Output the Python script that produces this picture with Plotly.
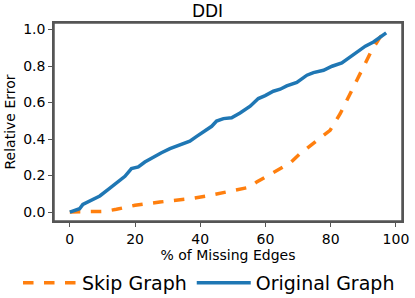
import plotly.graph_objects as go

orig_x = [0, 3, 4, 7.2, 9.2, 11.8, 14.3, 16.9, 18.9, 21, 23, 25.6, 28.1, 30.7, 33.3, 34.8, 36.8,
          38.9, 41, 43.5, 45, 47.1, 49.6, 52.2, 55.3, 57.8, 59.9, 62.4, 64.5, 66.5, 69.6, 72.7,
          74.7, 77.8, 80.4, 83.4, 86, 88, 90.6, 93.1, 95.2, 97]
orig_y = [0, 0.018, 0.042, 0.073, 0.088, 0.124, 0.159, 0.196, 0.238, 0.247, 0.274, 0.302, 0.325,
          0.347, 0.366, 0.378, 0.389, 0.415, 0.442, 0.47, 0.499, 0.512, 0.517, 0.543, 0.58, 0.622,
          0.638, 0.662, 0.673, 0.691, 0.711, 0.75, 0.764, 0.777, 0.799, 0.817, 0.85, 0.877, 0.909,
          0.932, 0.96, 0.982]

skip_x = [0, 4, 10.7, 14.3, 20, 27.6, 36.8, 42, 46, 49.6, 55.3, 57.3, 60.4, 63.4, 67.6, 70.6,
          74.7, 79.8, 82.9, 86, 89.6, 92.6, 95.2, 97]
skip_y = [0, 0.002, 0.004, 0.015, 0.037, 0.055, 0.073, 0.088, 0.104, 0.115, 0.137, 0.165, 0.196,
          0.229, 0.269, 0.32, 0.375, 0.448, 0.539, 0.649, 0.777, 0.887, 0.96, 0.987]

x_ticks = [0, 20, 40, 60, 80, 100]
y_ticks = [0.0, 0.2, 0.4, 0.6, 0.8, 1.0]

FONT = "DejaVu Sans"

fig = go.Figure()
fig.add_trace(go.Scatter(x=skip_x, y=skip_y, mode="lines", name="Skip Graph",
                         line=dict(color="#ff7f0e", width=3.5, dash="dash")))
fig.add_trace(go.Scatter(x=orig_x, y=orig_y, mode="lines", name="Original Graph",
                         line=dict(color="#1f77b4", width=3.5)))

axis_common = dict(showline=True, linecolor="#555555", linewidth=1.5, mirror=True,
                   ticks="outside", ticklen=4, tickwidth=1.2, tickcolor="#555555", showgrid=False,
                   zeroline=False, automargin=False,
                   tickfont=dict(family=FONT, size=14, color="black"))

fig.update_layout(
    width=415, height=298,
    margin=dict(l=54, r=13, t=23, b=77, autoexpand=False),
    plot_bgcolor="white", paper_bgcolor="white",
    title=dict(text="DDI", x=0.5, xanchor="center", y=0.962, yanchor="middle",
               font=dict(family=FONT, size=17, color="black")),
    xaxis=dict(range=[-4.85, 101.85], tickvals=x_ticks, ticktext=[str(v) for v in x_ticks],
               title=dict(text="% of Missing Edges", font=dict(family=FONT, size=14, color="black"),
                          standoff=2),
               **axis_common),
    yaxis=dict(range=[-0.049, 1.036], tickvals=y_ticks, ticktext=[f"{v:.1f}" for v in y_ticks],
               title=dict(text="Relative Error", font=dict(family=FONT, size=14, color="black"),
                          standoff=4),
               **axis_common),
    legend=dict(orientation="h", x=-0.1034, xanchor="left", y=-0.313, yanchor="middle",
                font=dict(family=FONT, size=19, color="black"), bgcolor="rgba(0,0,0,0)",
                itemwidth=54, tracegroupgap=0),
    shapes=[dict(type="rect", xref="paper", yref="paper", x0=0, x1=1, y0=0, y1=1,
                 line=dict(color="#555555", width=1.5), layer="above")],
    showlegend=True,
)

fig.write_html("out.html", config={"displayModeBar": False},
               post_script="document.body.style.margin='0';document.body.style.padding='0';")
